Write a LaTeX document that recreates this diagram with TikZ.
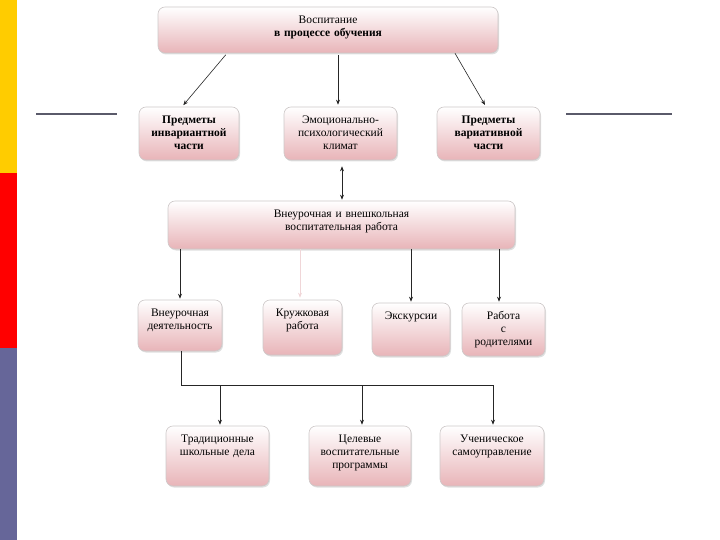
\documentclass[tikz,border=0pt]{standalone}
\usepackage{fontspec}
\setmainfont{Liberation Serif}
\usetikzlibrary{arrows.meta,shadows}
\definecolor{boxpink}{RGB}{232,180,184}
\definecolor{boxedge}{RGB}{205,200,200}
\definecolor{baryellow}{RGB}{255,204,0}
\definecolor{barred}{RGB}{255,0,0}
\definecolor{barpurple}{RGB}{102,102,153}
\definecolor{ruleline}{RGB}{90,90,106}
\definecolor{faintline}{RGB}{240,214,216}
\tikzset{
  box/.style 2 args={draw=boxedge, line width=0.6pt, rounded corners=7pt,
    top color=white, bottom color=boxpink,
    drop shadow={shadow xshift=1pt, shadow yshift=-1.5pt, opacity=0.25},
    align=center, inner xsep=2pt, inner ysep=4pt, text height=12.5pt,
    text width=#1, text depth=#2, font=\fontsize{11.5}{13}\selectfont},
  arr/.style={-{Stealth[length=5pt,width=4pt]}, line width=0.6pt, black!85},
}
\begin{document}
\begin{tikzpicture}[x=1pt,y=-1pt]
  \useasboundingbox (0,0) rectangle (720,540);
  % Side bar
  \fill[baryellow] (0,0) rectangle (17,173);
  \fill[barred] (0,173) rectangle (17,348);
  \fill[barpurple] (0,348) rectangle (17,540);
  % Side rules
  \draw[ruleline, line width=1.6pt] (36,114) -- (117,114);
  \draw[ruleline, line width=1.6pt] (566,114) -- (672,114);
  % Top box
  \node[box={336pt}{25.5pt}] (top) at (328,30) {Воспитание\\\textbf{в процессе обучения}};
  % Second row
  \node[box={96pt}{32.5pt}] (inv) at (189,133.5) {\textbf{Предметы}\\\textbf{инвариантной}\\\textbf{части}};
  \node[box={109pt}{32.5pt}] (emo) at (340.5,133.5) {Эмоционально-\\психологический\\климат};
  \node[box={99pt}{32.5pt}] (var) at (488.5,133.5) {\textbf{Предметы}\\\textbf{вариативной}\\\textbf{части}};
  % Middle box
  \node[box={343pt}{27.5pt}] (work) at (341.5,225) {Внеурочная и внешкольная\\воспитательная работа};
  % Fourth row
  \node[box={80pt}{30.5pt}] (extra) at (180,325.5) {Внеурочная\\деятельность};
  \node[box={75pt}{34.5pt}] (club) at (302.5,327.5) {Кружковая\\работа};
  \node[box={74pt}{32.5pt}] (trip) at (411,329.5) {Экскурсии};
  \node[box={79pt}{32.5pt}] (par) at (503.5,329.5) {Работа\\с\\родителями};
  % Bottom row
  \node[box={99pt}{39.5pt}] (trad) at (217.5,456) {Традиционные\\школьные дела};
  \node[box={98pt}{39.5pt}] (prog) at (360,456) {Целевые\\воспитательные\\программы};
  \node[box={100pt}{39.5pt}] (self) at (492,456) {Ученическое\\самоуправление};
  % Arrows from top box
  \draw[arr, shorten <=2pt, shorten >=2pt] ([xshift=-101pt]top.south) -- ([xshift=-7pt]inv.north);
  \draw[arr, shorten <=2pt, shorten >=2pt] ([xshift=10pt]top.south) -- ([xshift=-2.5pt]emo.north);
  \draw[arr, shorten >=2pt] ([xshift=127pt]top.south) -- ([xshift=-2.5pt]var.north);
  % Climate and work
  \draw[{Stealth[length=5pt,width=4pt]}-{Stealth[length=5pt,width=4pt]}, line width=0.6pt, black!85, shorten <=6pt, shorten >=1pt]
    ([xshift=1.5pt]emo.south) -- ([xshift=0.5pt]work.north);
  % Arrows from middle box
  \draw[arr, shorten >=1pt] (work.south -| extra.north) -- (extra.north);
  \draw[arr, faintline, shorten >=2pt] ([xshift=-2.5pt]work.south -| club.north) -- ([xshift=-2.5pt]club.north);
  \draw[arr, shorten >=1pt] (work.south -| trip.north) -- (trip.north);
  \draw[arr, shorten >=1pt] ([xshift=-4.5pt]work.south -| par.north) -- ([xshift=-4.5pt]par.north);
  % Bus to bottom row
  \coordinate (bus) at (181,385);
  \draw[line width=0.6pt, black!85] ([xshift=1pt]extra.south) -- (bus) -- (bus -| 493,0);
  \draw[arr, shorten >=1pt] (bus -| 220,0) -- ([xshift=2.5pt]trad.north);
  \draw[arr, shorten >=1pt] (bus -| 362,0) -- ([xshift=2pt]prog.north);
  \draw[arr, shorten >=1pt] (bus -| 493,0) -- ([xshift=1pt]self.north);
\end{tikzpicture}
\end{document}
